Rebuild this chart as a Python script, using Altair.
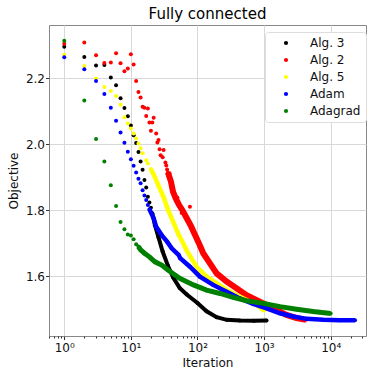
import altair as alt
import pandas as pd

series_names = ["Alg. 3", "Alg. 2", "Alg. 5", "Adam", "Adagrad"]
series_colors = ["#000000", "#ff0000", "#ffff00", "#0000ff", "#008000"]

alg3_iter = [1, 2, 3, 4, 5, 6, 7, 8, 9, 10, 11, 12, 13, 14, 15, 16, 17, 18, 19, 20,
             21, 23, 26, 30, 36, 43, 54, 69, 100, 137, 194, 275, 433, 700, 1090]
alg3_obj = [2.296, 2.265, 2.239, 2.241, 2.203, 2.179, 2.140, 2.110, 2.085, 2.057,
            2.028, 2.004, 1.977, 1.948, 1.923, 1.892, 1.869, 1.841, 1.824, 1.808,
            1.791, 1.755, 1.718, 1.675, 1.632, 1.597, 1.565, 1.545, 1.519, 1.494,
            1.476, 1.468, 1.466, 1.465, 1.466]

alg2_iter = [1, 2, 3, 4, 5, 6, 7, 8, 9, 10, 11, 12, 13, 14, 15, 16, 17, 18, 19, 20,
             21, 22, 24, 25, 26, 27, 28, 30, 31, 33, 34, 35, 36, 40, 43, 48, 53, 60,
             69, 80, 92, 108, 122, 154, 194, 274, 386, 546, 863, 1370, 2170, 3070, 4260]
alg2_obj = [2.305, 2.309, 2.270, 2.247, 2.248, 2.276, 2.246, 2.222, 2.230, 2.273,
            2.242, 2.192, 2.159, 2.142, 2.114, 2.111, 2.086, 2.109, 2.066, 2.041,
            2.066, 2.081, 2.033, 2.006, 2.013, 1.985, 1.967, 1.961, 1.983, 1.945,
            1.936, 1.924, 1.915, 1.887, 1.856, 1.833, 1.816, 1.799, 1.776, 1.752,
            1.725, 1.695, 1.670, 1.639, 1.609, 1.584, 1.564, 1.543, 1.523, 1.503,
            1.483, 1.473, 1.468]
alg2_scatter_iter = [38, 42, 50, 58, 65, 77, 85, 100]
alg2_scatter_obj = [1.912, 1.862, 1.838, 1.792, 1.787, 1.811, 1.742, 1.712]

alg5_iter = [1, 2, 3, 4, 5, 6, 7, 8, 9, 10, 11, 12, 13, 14, 15, 17, 18, 20, 22, 26,
             31, 36, 43, 52, 61, 69, 97, 137, 194, 274, 386, 546, 772, 1000]
alg5_obj = [2.272, 2.238, 2.200, 2.174, 2.162, 2.147, 2.120, 2.082, 2.063, 2.048,
            2.033, 2.018, 2.003, 1.988, 1.973, 1.952, 1.942, 1.925, 1.909, 1.875,
            1.840, 1.803, 1.766, 1.727, 1.700, 1.678, 1.629, 1.599, 1.579, 1.559,
            1.543, 1.528, 1.513, 1.496]

adam_iter = [1, 2, 3, 4, 5, 6, 7, 8, 9, 10, 11, 12, 13, 14, 15, 16, 17, 18, 19, 22,
             24, 29, 35, 41, 52, 55, 77, 109, 172, 274, 433, 686, 1090, 1730, 2740,
             4340, 7720, 13700, 23200]
adam_obj = [2.264, 2.228, 2.192, 2.153, 2.111, 2.072, 2.036, 2.005, 1.978, 1.955,
            1.935, 1.915, 1.896, 1.882, 1.861, 1.845, 1.831, 1.816, 1.803, 1.776,
            1.750, 1.725, 1.705, 1.685, 1.665, 1.655, 1.629, 1.599, 1.574, 1.553,
            1.533, 1.516, 1.503, 1.488, 1.478, 1.471, 1.468, 1.467, 1.467]

adagrad_iter = [1, 2, 3, 4, 5, 6, 7, 8, 9, 10, 11, 12, 13, 14, 16, 19, 23, 29, 36, 46,
                54, 87, 137, 218, 343, 546, 980, 1730, 3070, 5460, 10000]
adagrad_obj = [2.314, 2.133, 2.016, 1.948, 1.876, 1.813, 1.765, 1.743, 1.727, 1.724,
               1.712, 1.697, 1.690, 1.680, 1.670, 1.659, 1.644, 1.634, 1.619, 1.604,
               1.594, 1.574, 1.558, 1.548, 1.536, 1.526, 1.518, 1.508, 1.500, 1.493,
               1.487]

x_major = [1, 10, 100, 1000, 10000]
x_minor = [0.6, 0.7, 0.8, 0.9, 2, 3, 4, 5, 6, 7, 8, 9, 20, 30, 40, 50, 60, 70, 80, 90,
           200, 300, 400, 500, 600, 700, 800, 900, 2000, 3000, 4000, 5000, 6000, 7000,
           8000, 9000, 20000, 30000]
x_labels = ["10⁰", "10¹", "10²", "10³", "10⁴"]
y_ticks = [1.6, 1.8, 2.0, 2.2]

series_data = [
    ("Alg. 3", alg3_iter, alg3_obj),
    ("Alg. 2", alg2_iter, alg2_obj),
    ("Alg. 5", alg5_iter, alg5_obj),
    ("Adam", adam_iter, adam_obj),
    ("Adagrad", adagrad_iter, adagrad_obj),
]
line_start = {"Alg. 3": 21, "Alg. 2": 36, "Alg. 5": 20, "Adam": 19, "Adagrad": 13}
line_width = {"Alg. 3": 4, "Alg. 2": 6, "Alg. 5": 4.5, "Adam": 4.5, "Adagrad": 5}

decade_test = " || ".join(f"datum.value == {v}" for v in x_major)
label_expr = " : ".join(f"datum.value == {v} ? '{l}'" for v, l in zip(x_major, x_labels)) + " : ''"

x_scale = alt.Scale(type="log", domain=[0.59, 33900], nice=False)
y_scale = alt.Scale(domain=[1.419, 2.362], nice=False, zero=False)
color_scale = alt.Scale(domain=series_names, range=series_colors)

x_axis = alt.Axis(
    values=sorted(x_major + x_minor), labelExpr=label_expr, title="Iteration",
    grid=True, gridOpacity={"condition": {"test": decade_test, "value": 1}, "value": 0},
    tickSize={"condition": {"test": decade_test, "value": 3.5}, "value": 2},
    labelOverlap=False, labelFlush=False, labelPadding=3, titlePadding=4,
)
y_axis = alt.Axis(values=y_ticks, format=".1f", title="Objective", grid=True,
                  tickSize=3.5, labelPadding=1, titlePadding=5, labelFlush=False)

layers = []
for idx, (name, its, objs) in enumerate(series_data):
    df = pd.DataFrame({"Iteration": its, "Objective": objs, "Series": name, "k": idx})
    if name == "Alg. 2":
        extra = pd.DataFrame({"Iteration": alg2_scatter_iter, "Objective": alg2_scatter_obj,
                              "Series": name, "k": idx})
        pts = pd.concat([df, extra], ignore_index=True)
    else:
        pts = df
    dense = df[df["Iteration"] >= line_start[name]]
    col = series_colors[series_names.index(name)]
    line = alt.Chart(dense).mark_line(color=col, strokeWidth=line_width[name], clip=True).encode(
        x=alt.X("Iteration:Q", scale=x_scale, axis=x_axis),
        y=alt.Y("Objective:Q", scale=y_scale, axis=y_axis),
    )
    point = alt.Chart(pts).mark_circle(size=16, opacity=1, clip=True).encode(
        x=alt.X("Iteration:Q", scale=x_scale, axis=x_axis),
        y=alt.Y("Objective:Q", scale=y_scale, axis=y_axis),
        color=alt.Color("Series:N", scale=color_scale,
                        legend=alt.Legend(title=None, orient="none", legendX=216, legendY=7)),
    )
    layers += [line, point]

chart = alt.layer(*layers).properties(
    width=317, height=311,
    title=alt.Title("Fully connected", fontSize=15, fontWeight="normal", offset=3,
                    font="DejaVu Sans", color="#000000"),
    autosize=alt.AutoSizeParams(type="none"),
    padding={"left": 49, "top": 25, "right": 1, "bottom": 38},
).configure(
    font="DejaVu Sans",
).configure_view(
    stroke="#888888", strokeWidth=1,
).configure_axis(
    labelFont="DejaVu Sans", titleFont="DejaVu Sans", labelFontSize=12, titleFontSize=12,
    titleFontWeight="normal", labelColor="#111111", titleColor="#111111",
    domain=False, tickColor="#333333", gridColor="#d8d8d8", gridWidth=1,
).configure_legend(
    labelFont="DejaVu Sans", labelFontSize=12, labelColor="#111111",
    symbolType="circle", symbolSize=18, symbolStrokeWidth=0,
    fillColor="#ffffff", strokeColor="#dddddd", cornerRadius=3, padding=5,
    rowPadding=5, labelOffset=18, symbolOffset=10,
)

chart.save("out.html", embed_options={"renderer": "svg", "actions": False})
